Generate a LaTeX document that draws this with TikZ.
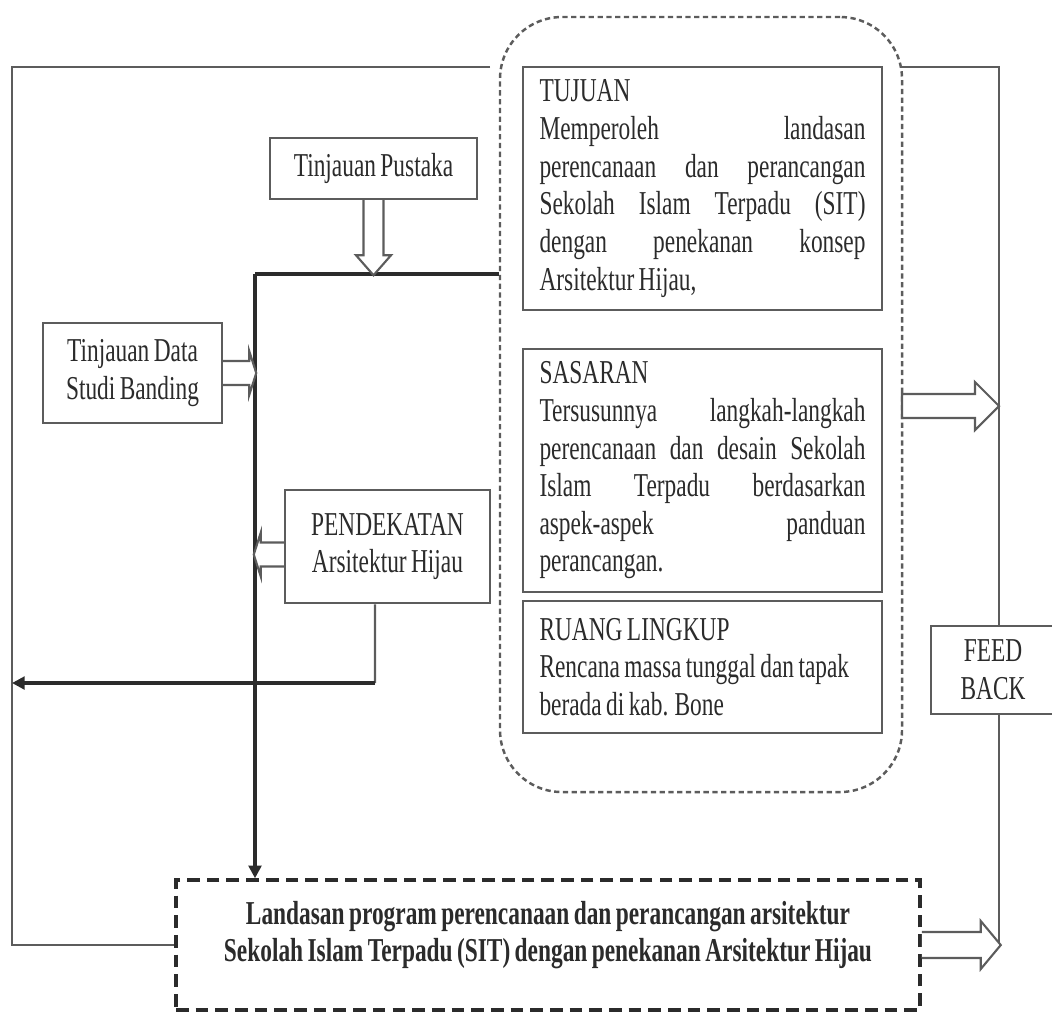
\documentclass[tikz,border=0pt]{standalone}
\usepackage{fontspec}
\setmainfont{Liberation Serif}[FakeStretch=0.7,WordSpace=0.75]
\usepackage{tikz}
\usetikzlibrary{arrows.meta,calc,positioning}
\definecolor{Ink}{HTML}{2B2B2B}
\definecolor{Wire}{HTML}{5C5C5C}

\begin{document}
\begin{tikzpicture}[font=\fontsize{9.5}{10.7}\selectfont,>={Triangle[length=3.6pt,width=3.6pt]},
    box/.style={draw=Wire,line width=0.7pt,fill=white,text=Ink,inner sep=0pt},
    txtbox/.style={box,text width=3.26cm,inner xsep=0.165cm,align=flush left,minimum height=#1},
    wire/.style={draw=Wire,line width=0.6pt},
    boldwire/.style={draw=Ink,line width=0.9pt},
    fat/.style={draw=Wire,line width=0.6pt,fill=white,line join=miter}]
    \useasboundingbox (0,0) rectangle (10.52,-10.12);
    % dashed group on the right
    \node[draw=Wire,line width=0.7pt,dash pattern=on 1.5pt off 1pt,rounded corners=0.62cm,minimum width=4.02cm,minimum height=7.75cm] (ring) at (7.01,-4.045) {};
    \node[txtbox=2.43cm] (tujuan) at (7.025,-1.885) {TUJUAN\\ Memperoleh\hfill landasan\\ perencanaan\hfill dan\hfill perancangan\\ Sekolah\hfill Islam\hfill Terpadu\hfill (SIT)\\ dengan\hfill penekanan\hfill konsep\\ Arsitektur Hijau,};
    \node[txtbox=2.43cm] (sasaran) at (7.025,-4.705) {SASARAN\\ Tersusunnya\hfill langkah-langkah\\ perencanaan\hfill dan\hfill desain\hfill Sekolah\\ Islam\hfill Terpadu\hfill berdasarkan\\ aspek-aspek\hfill panduan\\ perancangan.};
    \node[txtbox=1.32cm] (ruang) at (7.025,-6.67) {RUANG LINGKUP\\ Rencana massa tunggal dan tapak\\ berada di kab. Bone};
    % inputs on the left
    \node[box,minimum width=2.07cm,minimum height=0.61cm] (pustaka) at (3.735,-1.685) {Tinjauan Pustaka};
    \node[box,minimum width=1.79cm,minimum height=1.0cm,align=center] (studi) at (1.325,-3.73) {Tinjauan Data\\Studi Banding};
    \node[box,minimum width=2.05cm,minimum height=1.13cm,align=center] (pendekatan) at (3.875,-5.465) {PENDEKATAN\\Arsitektur Hijau};
    \node[draw=Ink,line width=1pt,dash pattern=on 3.6pt off 2pt,minimum width=7.44cm,minimum height=1.30cm] (landasan) at (5.48,-9.45) {};
    \node[font=\fontsize{9.5}{10.7}\selectfont\bfseries,align=center,text=Ink] (landasantxt) at ([yshift=1mm]landasan.center) {Landasan program perencanaan dan perancangan arsitektur\\ Sekolah Islam Terpadu (SIT) dengan penekanan Arsitektur Hijau};
    \coordinate (spinetop) at (2.55,-2.74);
    \coordinate (loopL) at (4.90,-0.67);
    \coordinate (lt) at (0.12,-0.67);
    \coordinate (loopR) at (9.00,-0.67);
    \coordinate (rt) at (9.99,-0.67);
    \coordinate (sasout) at (9.02,-4.06);
    \coordinate (dropend) at (3.75,-6.83);
    % feedback loop
    \draw[wire] (loopL) -- (lt) -- (lt |- landasan.west) -- (landasan.west);
    \draw[wire] (loopR) -- (rt) -- (rt |- 0,-6.26);
    \node[box,minimum width=1.24cm,minimum height=0.88cm,align=center] (feedback) at (9.93,-6.70) {FEED\\BACK};
    \draw[wire] (rt |- feedback.south) -- (rt |- landasan.east);
    % spine
    \draw[boldwire] (spinetop) -- (spinetop -| ring.west);
    \draw[boldwire,->] (spinetop) -- (spinetop |- landasan.north);
    \draw[wire] ([xshift=-1.25mm]pendekatan.south) -- (dropend);
    \draw[boldwire,->] (dropend) -- (dropend -| lt);
    % hollow arrows
    \draw[fat] ([xshift=-1mm]pustaka.south) -- ++(0,-0.55) -- ++(-0.075,0) -- ++(0.175,-0.20) -- ++(0.175,0.20) -- ++(-0.075,0) -- ++(0,0.55);
    \draw[fat] ([yshift=1.2mm]studi.east) -- ++(0.26,0) -- ++(0,0.10) -- ++(0.07,-0.22) -- ++(-0.07,-0.22) -- ++(0,0.10) -- ++(-0.26,0);
    \draw[fat] ([yshift=0.4mm]pendekatan.west) -- ++(-0.23,0) -- ++(0,0.10) -- ++(-0.07,-0.22) -- ++(0.07,-0.22) -- ++(0,0.10) -- ++(0.23,0);
    \draw[fat] ([yshift=1.2mm]sasout) -- ++(0.73,0) -- ++(0,0.12) -- ++(0.24,-0.24) -- ++(-0.24,-0.24) -- ++(0,0.12) -- ++(-0.73,0) -- cycle;
    \draw[fat] ([yshift=1.3mm]landasan.east) -- ++(0.59,0) -- ++(0,0.11) -- ++(0.20,-0.24) -- ++(-0.20,-0.24) -- ++(0,0.11) -- ++(-0.59,0);
\end{tikzpicture}
\end{document}
